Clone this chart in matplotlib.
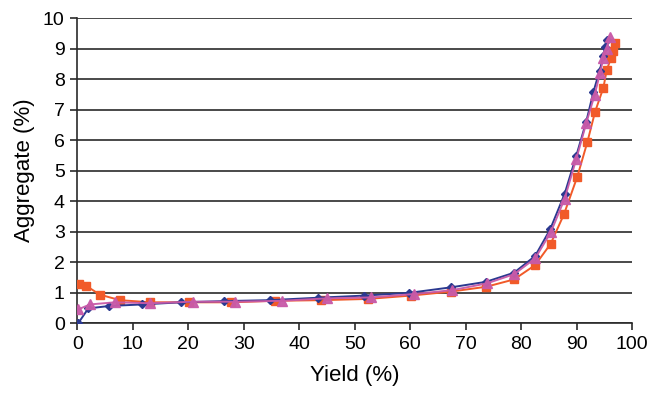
import matplotlib
matplotlib.use("Agg")
import matplotlib.pyplot as plt

# --------------------------------------------------------------------------- #
# Data (yield %, aggregate %)
# --------------------------------------------------------------------------- #
blue_x = [0.2, 2.0, 5.8, 11.7, 18.7, 26.5, 34.7, 43.3, 51.7, 59.8, 67.3, 73.6,
          78.7, 82.5, 85.2, 87.8, 89.9, 91.7, 93.0, 94.1, 94.8, 95.1, 95.4]
blue_y = [0.0, 0.48, 0.56, 0.61, 0.68, 0.72, 0.75, 0.83, 0.90, 0.99, 1.17, 1.35,
          1.65, 2.20, 3.07, 4.23, 5.48, 6.60, 7.58, 8.27, 8.75, 9.06, 9.28]

orange_x = [0.4, 1.6, 4.1, 7.7, 13.2, 20.1, 27.7, 35.7, 44.0, 52.3, 60.1, 67.3,
            73.7, 78.7, 82.5, 85.3, 87.7, 90.1, 91.9, 93.3, 94.8, 95.4, 96.2,
            96.5, 96.9]
orange_y = [1.28, 1.22, 0.93, 0.75, 0.68, 0.68, 0.68, 0.73, 0.75, 0.79, 0.90, 1.03,
            1.19, 1.43, 1.90, 2.60, 3.57, 4.80, 5.93, 6.93, 7.72, 8.30, 8.70,
            8.93, 9.19]

pink_x = [0.2, 2.3, 6.8, 13.2, 20.8, 28.5, 36.9, 45.0, 52.9, 60.6, 67.6, 73.8,
          78.7, 82.5, 85.3, 87.8, 89.9, 91.7, 93.2, 94.2, 94.8, 95.4, 95.9]
pink_y = [0.45, 0.61, 0.68, 0.65, 0.70, 0.70, 0.73, 0.81, 0.84, 0.95, 1.08, 1.30,
          1.60, 2.12, 2.97, 4.07, 5.37, 6.55, 7.47, 8.20, 8.70, 9.00, 9.39]

x_ticks = list(range(0, 101, 10))
y_ticks = list(range(0, 11))

BLUE = "#2B3990"
ORANGE = "#F15A29"
PINK = "#C85AA8"

plt.rcParams["font.family"] = ["Liberation Sans", "DejaVu Sans"]

fig = plt.figure(figsize=(6.6, 3.93), dpi=100)
ax = fig.add_axes([0.117, 0.178, 0.841, 0.776])

for yv in y_ticks:
    ax.axhline(yv, color="#2a2a2a", lw=1.2, zorder=1)

ax.plot(orange_x, orange_y, color=ORANGE, lw=1.4, marker="s", ms=5.5,
        mec=ORANGE, zorder=3)
ax.plot(blue_x, blue_y, color=BLUE, lw=1.4, marker="D", ms=4.5,
        mec=BLUE, zorder=4)
ax.plot(pink_x, pink_y, color=PINK, lw=1.4, marker="^", ms=7,
        mec=PINK, zorder=5, alpha=0.95)

ax.set_xlim(0, 100)
ax.set_ylim(0, 10)
ax.set_xticks(x_ticks)
ax.set_yticks(y_ticks)
ax.tick_params(axis="both", labelsize=14, length=5, width=1.2,
               color="#2a2a2a", direction="out", pad=4)
for s in ("top", "right"):
    ax.spines[s].set_visible(False)
for s in ("left", "bottom"):
    ax.spines[s].set_linewidth(1.2)
    ax.spines[s].set_color("#2a2a2a")

ax.set_xlabel("Yield (%)", fontsize=16, labelpad=9)
ax.set_ylabel("Aggregate (%)", fontsize=16, labelpad=6)

fig.savefig("out.png", dpi=100)
